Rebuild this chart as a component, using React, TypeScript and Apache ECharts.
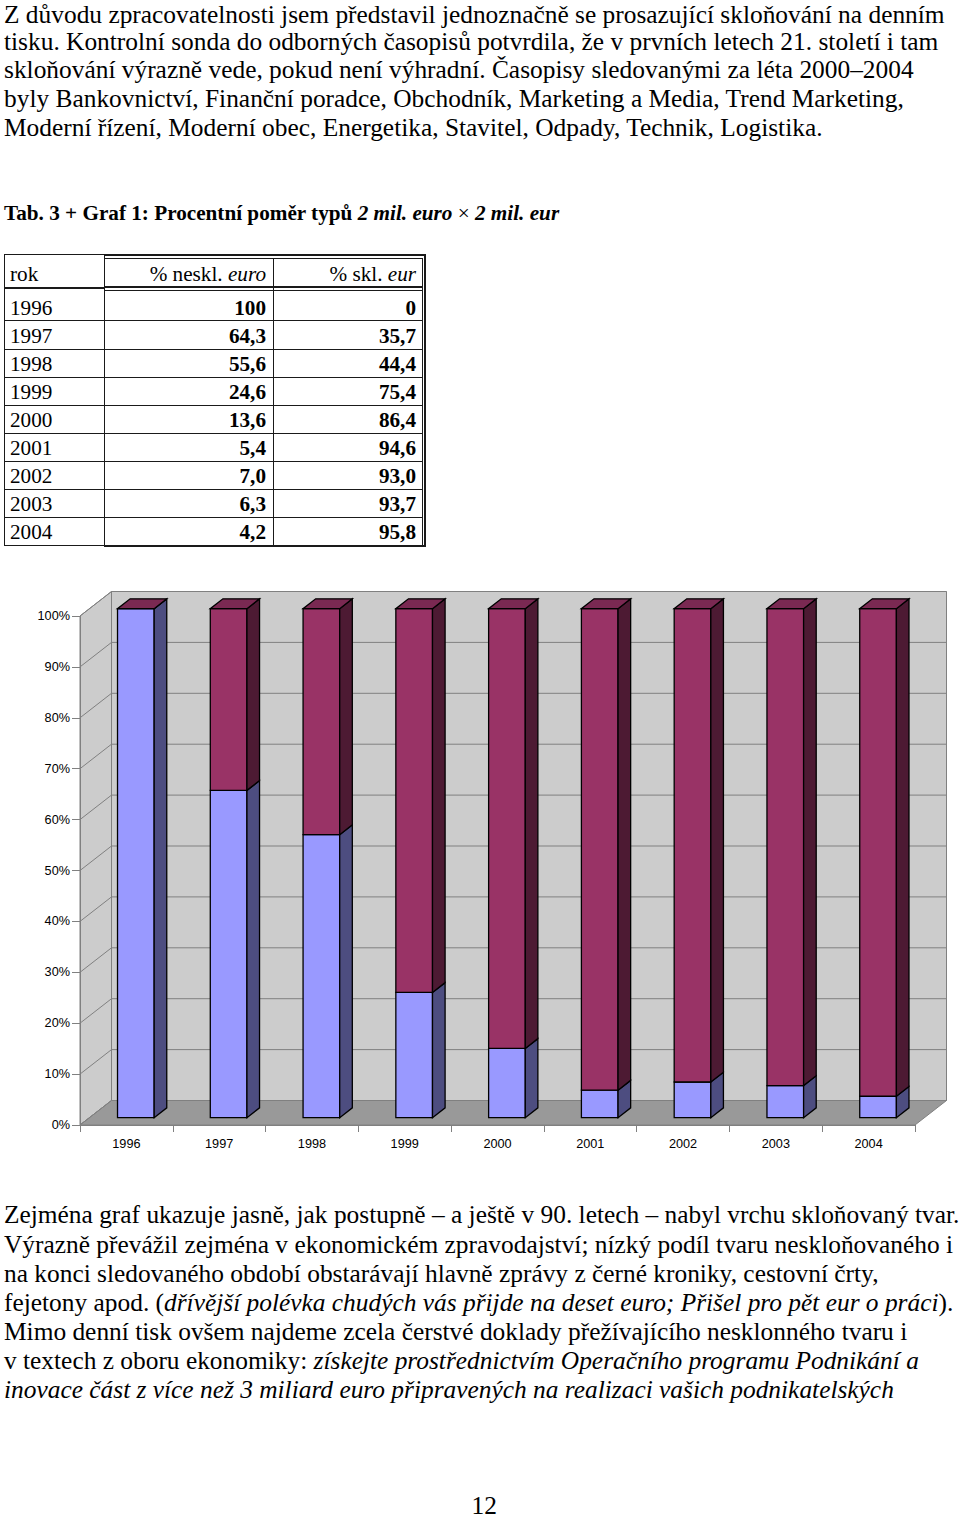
import React, { useEffect, useRef } from "react";
import * as echarts from "echarts";

// ---------- data ----------
const years = ["1996", "1997", "1998", "1999", "2000", "2001", "2002", "2003", "2004"];
const nesklEuro = [100, 64.3, 55.6, 24.6, 13.6, 5.4, 7.0, 6.3, 4.2];
const sklEur = [0, 35.7, 44.4, 75.4, 86.4, 94.6, 93.0, 93.7, 95.8];
const yTicks = [0, 10, 20, 30, 40, 50, 60, 70, 80, 90, 100];

const topLines = [
  "Z důvodu zpracovatelnosti jsem představil jednoznačně se prosazující skloňování na denním",
  "tisku. Kontrolní sonda do odborných časopisů potvrdila, že v prvních letech 21. století i tam",
  "skloňování výrazně vede, pokud není výhradní. Časopisy sledovanými za léta 2000–2004",
  "byly Bankovnictví, Finanční poradce, Obchodník, Marketing a Media, Trend Marketing,",
  "Moderní řízení, Moderní obec, Energetika, Stavitel, Odpady, Technik, Logistika.",
];

// ---------- styles ----------
const SERIF = '"Liberation Serif", "Times New Roman", serif';
const SANS = '"Liberation Sans", Arial, sans-serif';
const BODY = 25.4;
const SMALL = 21.2;

const fmt = (v: number) => (v === 100 || v === 0 ? String(v) : v.toFixed(1).replace(".", ","));

function Line(props: { x?: number; right?: number; baseline: number; size: number; style?: any; children: any }) {
  const { x, right, baseline, size, style, children } = props;
  const pos: any = right !== undefined ? { right: 960 - right } : { left: x };
  return (
    <div
      style={{
        position: "absolute",
        ...pos,
        top: baseline - 0.7875 * size,
        fontSize: size,
        lineHeight: `${0.9 * size}px`,
        whiteSpace: "nowrap",
        fontFamily: SERIF,
        color: "#000",
        ...style,
      }}
    >
      {children}
    </div>
  );
}

function HLine(props: { x1: number; x2: number; y: number; h?: number }) {
  const h = props.h ?? 1;
  return <div style={{ position: "absolute", left: props.x1, top: props.y - h / 2, width: props.x2 - props.x1, height: h, background: "#1a1a1a" }} />;
}
function VLine(props: { x: number; y1: number; y2: number; w?: number }) {
  const w = props.w ?? 1;
  return <div style={{ position: "absolute", left: props.x - w / 2, top: props.y1, width: w, height: props.y2 - props.y1, background: "#1a1a1a" }} />;
}

function Table() {
  const rowTop = 254;
  const headBottom = 288;
  const rowLines = [320.7, 349.3, 377.3, 405.7, 433.7, 461.7, 489.7, 517.7];
  const bottom = 545.5;
  const c0 = 4, c1 = 104, c2 = 273, c3 = 422;
  return (
    <>
      <HLine x1={c0} x2={c1} y={rowTop} />
      <HLine x1={c1} x2={c3 + 4} y={rowTop + 1} h={2} />
      <HLine x1={c1} x2={c3} y={rowTop + 4} />
      <HLine x1={c0} x2={c1} y={headBottom} h={2} />
      <HLine x1={c1} x2={c3} y={headBottom - 1} h={2} />
      <HLine x1={c1} x2={c3} y={headBottom + 2.5} />
      {rowLines.map((y, i) => (
        <HLine key={i} x1={c0} x2={c3} y={y} />
      ))}
      <HLine x1={c0} x2={c1} y={bottom} />
      <HLine x1={c1} x2={c3 + 4} y={bottom} h={2} />
      <VLine x={c0} y1={rowTop} y2={bottom} />
      <VLine x={c1} y1={rowTop} y2={bottom} />
      <VLine x={c2} y1={rowTop + 4} y2={bottom} />
      <VLine x={c3} y1={rowTop + 4} y2={bottom} />
      <VLine x={c3 + 3} y1={rowTop} y2={bottom + 1} w={2} />
      <Line x={10} baseline={281.7} size={SMALL}>rok</Line>
      <Line right={266} baseline={281.7} size={SMALL}>
        % neskl. <i>euro</i>
      </Line>
      <Line right={416} baseline={281.7} size={SMALL}>
        % skl. <i>eur</i>
      </Line>
      {years.map((y, i) => (
        <React.Fragment key={y}>
          <Line x={10} baseline={315.5 + 28 * i} size={SMALL}>{y}</Line>
          <Line right={266} baseline={315.5 + 28 * i} size={SMALL} style={{ fontWeight: "bold" }}>
            {fmt(nesklEuro[i])}
          </Line>
          <Line right={416} baseline={315.5 + 28 * i} size={SMALL} style={{ fontWeight: "bold" }}>
            {fmt(sklEur[i])}
          </Line>
        </React.Fragment>
      ))}
    </>
  );
}

function Chart() {
  const ref = useRef<HTMLDivElement>(null);
  useEffect(() => {
    const chart = echarts.init(ref.current!, null, { renderer: "svg" });
    const DX = 31.5, DY = -24.5;
    const F0 = 0.3, F1 = 0.7, BAR = 0.395;
    const WALL = "#cccccc", FLOOR = "#999999", GRID = "#808080";
    const BLUE = "#9999ff", BLUE_SIDE = "#4d4d80", MAROON = "#993366", MAROON_SIDE = "#4d1a33", MAROON_TOP = "#7a2952";

    const frameItem = (params: any, api: any) => {
      const cs = params.coordSys;
      const x0 = cs.x, x1 = cs.x + cs.width;
      const yT = api.coord([0, 100])[1];
      const yB = api.coord([0, 0])[1];
      const gs = { stroke: GRID, lineWidth: 1 };
      const children: any[] = [
        { type: "polygon", shape: { points: [[x0, yB], [x0 + DX, yB + DY], [x0 + DX, yT + DY], [x0, yT]] }, style: { fill: WALL, ...gs } },
        { type: "polygon", shape: { points: [[x0 + DX, yT + DY], [x1 + DX, yT + DY], [x1 + DX, yB + DY], [x0 + DX, yB + DY]] }, style: { fill: WALL, ...gs } },
        { type: "polygon", shape: { points: [[x0, yB], [x1, yB], [x1 + DX, yB + DY], [x0 + DX, yB + DY]] }, style: { fill: FLOOR, ...gs } },
      ];
      yTicks.forEach((t) => {
        const y = api.coord([0, t])[1];
        children.push({ type: "line", shape: { x1: x0, y1: y, x2: x0 + DX, y2: y + DY }, style: { ...gs, fill: null } });
        children.push({ type: "line", shape: { x1: x0 + DX, y1: y + DY, x2: x1 + DX, y2: y + DY }, style: { ...gs, fill: null } });
      });
      return { type: "group", children };
    };

    const barItem = (params: any, api: any) => {
      const i = api.value(0);
      const a = api.value(1);
      const b = api.value(2);
      const band = api.size([1, 0])[0];
      const base = api.coord([i, 0]);
      const yA = api.coord([i, a])[1];
      const yAB = api.coord([i, a + b])[1];
      const w = band * BAR;
      const ox = DX * F0, oy = DY * F0;
      const sx = DX * (F1 - F0), sy = DY * (F1 - F0);
      const L = base[0] - w / 2 + ox;
      const R = L + w;
      const y0 = base[1] + oy;
      const ya = yA + oy;
      const yb = yAB + oy;
      const st = { stroke: "#000", lineWidth: 1.3, lineJoin: "miter" };
      const poly = (pts: number[][], fill: string) => ({ type: "polygon", shape: { points: pts }, style: { fill, ...st } });
      return {
        type: "group",
        children: [
          poly([[L, ya], [R, ya], [R, y0], [L, y0]], BLUE),
          poly([[R, ya], [R + sx, ya + sy], [R + sx, y0 + sy], [R, y0]], BLUE_SIDE),
          poly([[L, yb], [R, yb], [R, ya], [L, ya]], MAROON),
          poly([[R, yb], [R + sx, yb + sy], [R + sx, ya + sy], [R, ya]], MAROON_SIDE),
          poly([[L, yb], [R, yb], [R + sx, yb + sy], [L + sx, yb + sy]], MAROON_TOP),
        ],
      };
    };

    chart.setOption({
      animation: false,
      grid: { left: 80, right: 45, top: 36, bottom: 55 },
      xAxis: {
        type: "category",
        data: years,
        z: 5,
        axisLine: { lineStyle: { color: GRID, width: 1 } },
        axisTick: { show: true, length: 7, lineStyle: { color: GRID } },
        axisLabel: { color: "#000", fontSize: 12.7, fontFamily: SANS, margin: 12 },
        splitLine: { show: false },
      },
      yAxis: {
        type: "value",
        min: 0,
        max: 100,
        interval: 10,
        z: 5,
        axisLine: { show: true, lineStyle: { color: GRID, width: 1 } },
        axisTick: { show: true, length: 8, lineStyle: { color: GRID } },
        axisLabel: { color: "#000", fontSize: 12.7, fontFamily: SANS, margin: 10, formatter: "{value}%" },
        splitLine: { show: false },
      },
      series: [
        { type: "custom", name: "frame", z: 1, silent: true, renderItem: frameItem, data: [[0, 0]], encode: { x: 0, y: 1 } },
        {
          type: "custom",
          name: "bars",
          z: 2,
          renderItem: barItem,
          data: years.map((_, i) => [i, nesklEuro[i], sklEur[i]]),
          encode: { x: 0, y: [1] },
        },
      ],
    });
    return () => chart.dispose();
  }, []);
  return <div ref={ref} style={{ position: "absolute", left: 0, top: 580, width: 960, height: 600 }} />;
}

export default function App() {
  const topBase = [22.8, 50, 78.5, 107, 136];
  const lowBase = [1223.5, 1252.7, 1281.8, 1311, 1340.1, 1369.3, 1398.5];
  return (
    <div style={{ position: "absolute", left: 0, top: 0, width: 960, height: 1521, background: "#fff", overflow: "hidden", fontFamily: SERIF }}>
      {topLines.map((t, i) => (
        <Line key={i} x={4} baseline={topBase[i]} size={BODY}>{t}</Line>
      ))}
      <Line x={4} baseline={220.5} size={SMALL} style={{ fontWeight: "bold" }}>
        Tab. 3 + Graf 1: Procentní poměr typů <i>2 mil. euro</i> <span style={{ fontWeight: "normal" }}>×</span> <i>2 mil. eur</i>
      </Line>
      <Table />
      <Chart />
      <Line x={4} baseline={lowBase[0]} size={BODY}>Zejména graf ukazuje jasně, jak postupně – a ještě v 90. letech – nabyl vrchu skloňovaný tvar.</Line>
      <Line x={4} baseline={lowBase[1]} size={BODY}>Výrazně převážil zejména v ekonomickém zpravodajství; nízký podíl tvaru neskloňovaného i</Line>
      <Line x={4} baseline={lowBase[2]} size={BODY}>na konci sledovaného období obstarávají hlavně zprávy z černé kroniky, cestovní črty,</Line>
      <Line x={4} baseline={lowBase[3]} size={BODY}>
        fejetony apod. (<i>dřívější polévka chudých vás přijde na deset euro; Přišel pro pět eur o práci</i>).
      </Line>
      <Line x={4} baseline={lowBase[4]} size={BODY}>Mimo denní tisk ovšem najdeme zcela čerstvé doklady přežívajícího nesklonného tvaru i</Line>
      <Line x={4} baseline={lowBase[5]} size={BODY}>
        v textech z oboru ekonomiky: <i>získejte prostřednictvím Operačního programu Podnikání a</i>
      </Line>
      <Line x={4} baseline={lowBase[6]} size={BODY}>
        <i>inovace část z více než 3 miliard euro připravených na realizaci vašich podnikatelských</i>
      </Line>
      <Line right={497} baseline={1514} size={BODY}>12</Line>
    </div>
  );
}
